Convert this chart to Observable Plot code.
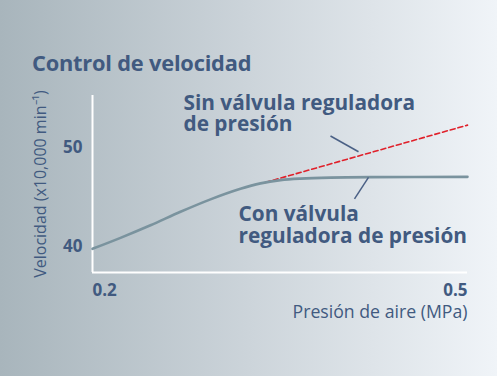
<!DOCTYPE html>
<html>
<head>
<meta charset="utf-8">
<script src="https://cdn.jsdelivr.net/npm/d3@7"></script>
<script src="https://cdn.jsdelivr.net/npm/@observablehq/plot@0.6"></script>
<style>
  html, body { margin: 0; padding: 0; }
  body { width: 497px; height: 376px; overflow: hidden;
    background: linear-gradient(90deg, #a8b5bc 0%, #ccd4da 50%, #f0f4f8 100%); }
  #wrap { position: relative; width: 497px; height: 376px; }
  #title { position: absolute; left: 32px; top: 50px; margin: 0;
    font-family: "Open Sans", sans-serif; font-weight: 700; font-size: 21.8px;
    color: #415a80; letter-spacing: -0.2px; white-space: nowrap; line-height: 1.2; }
  #chart { position: absolute; left: 0; top: 80px; }
</style>
</head>
<body>
<div id="wrap">
  <div id="title">Control de velocidad</div>
  <div id="chart"></div>
</div>
<script>
// Data
const pressure = [0.200, 0.2224, 0.2464, 0.2704, 0.2944, 0.3184, 0.3344, 0.3504, 0.3664, 0.3904, 0.4224, 0.500];
const speedWith = [39.77, 40.88, 42.15, 43.52, 44.78, 45.85, 46.40, 46.73, 46.88, 46.98, 47.03, 47.06];
const pressureWithout = [0.3384, 0.500];
const speedWithout = [46.5, 52.3];

const xTicks = [0.2, 0.5];
const yTicks = [40, 50];
const xDomain = [0.2, 0.5];
const yDomain = [37.37, 55.3];

const titleText = "Control de velocidad";
const xLabel = "Presión de aire (MPa)";
const yLabel = "Velocidad (x10,000 min⁻¹)";

const annoLabels = ["Sin válvula reguladora\nde presión", "Con válvula\nreguladora de presión"];
const annoX = [0.2728, 0.3168];
const annoY = [55.45, 44.15];
// leader lines: [x1, y1, x2, y2]
const leaderX1 = [0.3904, 0.4096];
const leaderY1 = [51.2, 44.83];
const leaderX2 = [0.4128, 0.4208];
const leaderY2 = [49.6, 47.0];

const textColor = "#415a80";
const font = "Open Sans, sans-serif";

const curve = pressure.map((p, i) => ({p, v: speedWith[i]}));
const dashed = pressureWithout.map((p, i) => ({p, v: speedWithout[i]}));
const annos = annoLabels.map((t, i) => ({t, x: annoX[i], y: annoY[i]}));
const leaders = leaderX1.map((x1, i) => ({x1, y1: leaderY1[i], x2: leaderX2[i], y2: leaderY2[i]}));

const plot = Plot.plot({
  width: 497,
  height: 296,
  marginLeft: 92,
  marginRight: 30,
  marginTop: 15,
  marginBottom: 104,
  x: {domain: xDomain},
  y: {domain: yDomain},
  style: {background: "transparent", fontFamily: font, color: textColor, overflow: "visible"},
  marks: [
    Plot.ruleX([xDomain[0]], {stroke: "white", strokeWidth: 2}),
    Plot.ruleY([yDomain[0]], {stroke: "white", strokeWidth: 2}),
    Plot.axisY(yTicks, {tickSize: 0, tickPadding: 10, fontSize: 17, fontWeight: 700, fill: textColor, label: null}),
    Plot.axisY(yTicks, {tickSize: 0, tickFormat: () => "", fontSize: 16, fill: textColor,
      label: yLabel, labelAnchor: "center", labelOffset: 58, labelArrow: "none"}),
    Plot.axisX([xTicks[0]], {tickSize: 0, tickPadding: 11, fontSize: 17, fontWeight: 700, fill: textColor,
      textAnchor: "start", tickFormat: d3.format(".1f"), label: null}),
    Plot.axisX([xTicks[1]], {tickSize: 0, tickPadding: 11, fontSize: 17, fontWeight: 700, fill: textColor,
      textAnchor: "end", tickFormat: d3.format(".1f"), label: null}),
    Plot.text([xLabel], {frameAnchor: "bottom-right", textAnchor: "end", lineAnchor: "middle", dy: 40,
      fontSize: 17.7, fill: textColor}),
    Plot.line(dashed, {x: "p", y: "v", stroke: "#e0202a", strokeWidth: 1.6, strokeDasharray: "5,3"}),
    Plot.line(curve, {x: "p", y: "v", stroke: "#7a939e", strokeWidth: 2.6, curve: "catmull-rom"}),
    Plot.link(leaders, {x1: "x1", y1: "y1", x2: "x2", y2: "y2", stroke: "#4a6085", strokeWidth: 1.5}),
    Plot.text(annos, {x: "x", y: "y", text: "t", textAnchor: "start", lineAnchor: "top",
      fontSize: 20.8, fontWeight: 700, fill: textColor, lineHeight: 1.05})
  ]
});
document.getElementById("chart").appendChild(plot);
</script>
</body>
</html>
